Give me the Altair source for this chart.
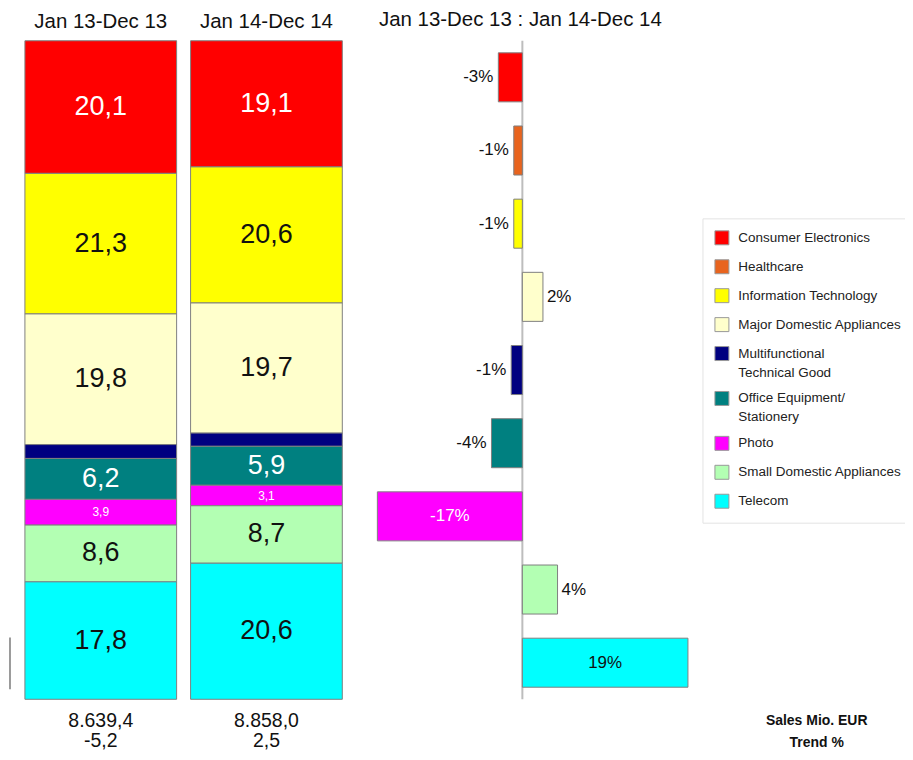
import altair as alt
import pandas as pd

FONT = "Liberation Sans"

# ---------------- data ----------------
categories = [
    "Consumer Electronics", "Healthcare", "Information Technology",
    "Major Domestic Appliances", "Multifunctional Technical Good",
    "Office Equipment/Stationery", "Photo", "Small Domestic Appliances", "Telecom",
]
legend_lines = [
    ["Consumer Electronics"], ["Healthcare"], ["Information Technology"],
    ["Major Domestic Appliances"], ["Multifunctional", "Technical Good"],
    ["Office Equipment/", "Stationery"], ["Photo"], ["Small Domestic Appliances"], ["Telecom"],
]
colors = ["#FF0000", "#E8641E", "#FFFF00", "#FFFFCC", "#000080",
          "#008080", "#FF00FF", "#B3FFB3", "#00FFFF"]

periods = ["Jan 13-Dec 13", "Jan 14-Dec 14"]
share_2013 = [20.1, 0.0, 21.3, 19.8, 2.1, 6.2, 3.9, 8.6, 17.8]
share_2014 = [19.1, 0.0, 20.6, 19.7, 2.0, 5.9, 3.1, 8.7, 20.6]
labelled = [True, False, True, True, False, True, True, True, True]

sales = ["8.639,4", "8.858,0"]
sales_trend = ["-5,2", "2,5"]
row_labels = ["Sales Mio. EUR", "Trend %"]

trend_title = "Jan 13-Dec 13 : Jan 14-Dec 14"
trend_values = [-2.8, -1.0, -1.0, 2.4, -1.3, -3.6, -16.9, 4.1, 19.3]
trend_labels = ["-3%", "-1%", "-1%", "2%", "-1%", "-4%", "-17%", "4%", "19%"]

# label styling
white_label = ["Consumer Electronics", "Office Equipment/Stationery", "Photo"]
small_label = ["Photo"]

# ---------------- tables ----------------
rows = []
for p, shares in zip(periods, [share_2013, share_2014]):
    for i, (c, s, lab) in enumerate(zip(categories, shares, labelled)):
        rows.append({"period": p, "category": c, "share": s, "order": i, "labelled": lab})
stack_df = pd.DataFrame(rows)

trend_df = pd.DataFrame({"category": categories, "trend": trend_values, "label": trend_labels})

color_scale = alt.Scale(domain=categories, range=colors)


def js_list(lines):
    return "[" + ",".join("'" + l + "'" for l in lines) + "]"


legend_expr = "datum.label"
for c, lines in zip(categories, legend_lines):
    if len(lines) > 1:
        legend_expr = f"datum.label == '{c}' ? {js_list(lines)} : " + legend_expr

bottom_expr = "''"
for p, s, t in zip(periods, sales, sales_trend):
    bottom_expr = f"datum.value == '{p}' ? {js_list([s, t])} : " + bottom_expr

legend = alt.Legend(
    orient="none", legendX=694, legendY=178, title=None,
    symbolType="square", symbolSize=196, symbolStrokeColor="#999999",
    symbolStrokeWidth=1, labelFont=FONT, labelFontSize=13.5, labelColor="#222222",
    labelLimit=300, labelExpr=legend_expr, rowPadding=10, padding=12,
    strokeColor="#e3e3e3", fillColor="white", labelOffset=9,
)

# ---------------- panel A: stacked shares ----------------
y_scale = alt.Scale(domain=[0, 1], reverse=True, nice=False, zero=False)
x_scale_a = alt.Scale(paddingInner=0.0843, paddingOuter=0.09)

base_a = (
    alt.Chart(stack_df)
    .transform_stack(stack="share", groupby=["period"], as_=["y0", "y1"],
                     sort=[alt.SortField("order", "ascending")], offset="normalize")
    .transform_calculate(mid="(datum.y0 + datum.y1) / 2",
                         text="replace(format(datum.share, '.1f'), '.', ',')")
)

bars_a = base_a.transform_filter("datum.share > 0").mark_bar(
    stroke="#808080", strokeWidth=1
).encode(
    x=alt.X("period:N", sort=periods, scale=x_scale_a,
            axis=alt.Axis(orient="top", title=None, domain=False, ticks=False,
                          labelFont=FONT, labelFontSize=20.5, labelColor="#111111",
                          labelPadding=9.5, labelAngle=0)),
    y=alt.Y("y0:Q", scale=y_scale, axis=None),
    y2="y1:Q",
    color=alt.Color("category:N", scale=color_scale, legend=legend),
)

text_a = base_a.transform_filter("datum.labelled").mark_text(
    font=FONT, baseline="middle", align="center"
).encode(
    x=alt.X("period:N", sort=periods, scale=x_scale_a,
            axis=alt.Axis(orient="bottom", title=None, domain=False, ticks=False,
                          labelFont=FONT, labelFontSize=19.5, labelColor="#111111",
                          labelPadding=12, labelAngle=0, labelExpr=bottom_expr,
                          labelLineHeight=20, labelBaseline="top")),
    y=alt.Y("mid:Q", scale=y_scale, axis=None),
    text="text:N",
    color=alt.condition(alt.FieldOneOfPredicate(field="category", oneOf=white_label),
                        alt.value("white"), alt.value("#111111")),
    size=alt.condition(alt.FieldOneOfPredicate(field="category", oneOf=small_label),
                       alt.value(12), alt.value(27)),
)

edge_a = alt.Chart(pd.DataFrame({"k": [0]})).mark_rule(
    color="#7a7a7a", strokeWidth=1.5
).encode(x=alt.value(0), y=alt.value(598), y2=alt.value(650))

panel_a = alt.layer(bars_a, text_a, edge_a).properties(width=348, height=660)

# ---------------- panel B: trend ----------------
trend_scale = alt.Scale(domain=[-17.62, 20.41], nice=False, zero=False)
x_b = alt.X("trend:Q", scale=trend_scale, axis=None)
y_b = alt.Y("category:N", sort=categories,
            scale=alt.Scale(paddingInner=0.33, paddingOuter=0.165), axis=None)

base_b = alt.Chart(trend_df)

zero_rule = alt.Chart(pd.DataFrame({"k": [0]})).mark_rule(
    color="#bdbdbd", strokeWidth=2
).encode(x=alt.X("k:Q", scale=trend_scale, axis=None))

bars_b = base_b.mark_bar(stroke="#808080", strokeWidth=1).encode(
    x=x_b, x2=alt.datum(0), y=y_b,
    color=alt.Color("category:N", scale=color_scale, legend=legend),
)

neg_txt = base_b.transform_filter("datum.trend < 0 && abs(datum.trend) < 10").mark_text(
    font=FONT, fontSize=17, align="right", baseline="middle", dx=-5, color="#111111"
).encode(x=x_b, y=y_b, text="label:N")

pos_txt = base_b.transform_filter("datum.trend > 0 && abs(datum.trend) < 10").mark_text(
    font=FONT, fontSize=17, align="left", baseline="middle", dx=4, color="#111111"
).encode(x=x_b, y=y_b, text="label:N")

in_txt = base_b.transform_filter("abs(datum.trend) >= 10").transform_calculate(
    half="datum.trend / 2"
).mark_text(font=FONT, fontSize=17, align="center", baseline="middle").encode(
    x=alt.X("half:Q", scale=trend_scale, axis=None),
    y=y_b, text="label:N",
    color=alt.condition(alt.FieldOneOfPredicate(field="category", oneOf=white_label),
                        alt.value("white"), alt.value("#111111")),
)

panel_b = alt.layer(zero_rule, bars_b, neg_txt, pos_txt, in_txt).properties(
    width=327, height=660,
    title=alt.Title(trend_title, font=FONT, fontSize=20.5, fontWeight="normal",
                    color="#111111", anchor="middle", dx=-14, offset=9.5),
)

# ---------------- panel C: row captions ----------------
panel_c = alt.Chart(pd.DataFrame({"row": ["|".join(row_labels)]})).mark_text(
    text="", opacity=0
).encode(
    x=alt.X("row:N", axis=alt.Axis(orient="bottom", title=None, domain=False, ticks=False,
                                   labelFont=FONT, labelFontSize=14, labelFontWeight="bold",
                                   labelColor="#111111", labelPadding=14, labelAngle=0,
                                   labelOffset=8, labelExpr="split(datum.value, '|')",
                                   labelLineHeight=22, labelBaseline="top"))
).properties(width=194, height=660)

chart = alt.hconcat(panel_a, panel_b, panel_c, spacing=14, bounds="flush").properties(
    padding={"top": 0, "left": 0, "right": -10, "bottom": 0}
).configure(
    background="white",
    view=alt.ViewConfig(stroke="transparent"),
    style={"guide-label": {"lineHeight": 19}},
)

chart.save("out.html", embed_options={"renderer": "svg", "actions": False})
